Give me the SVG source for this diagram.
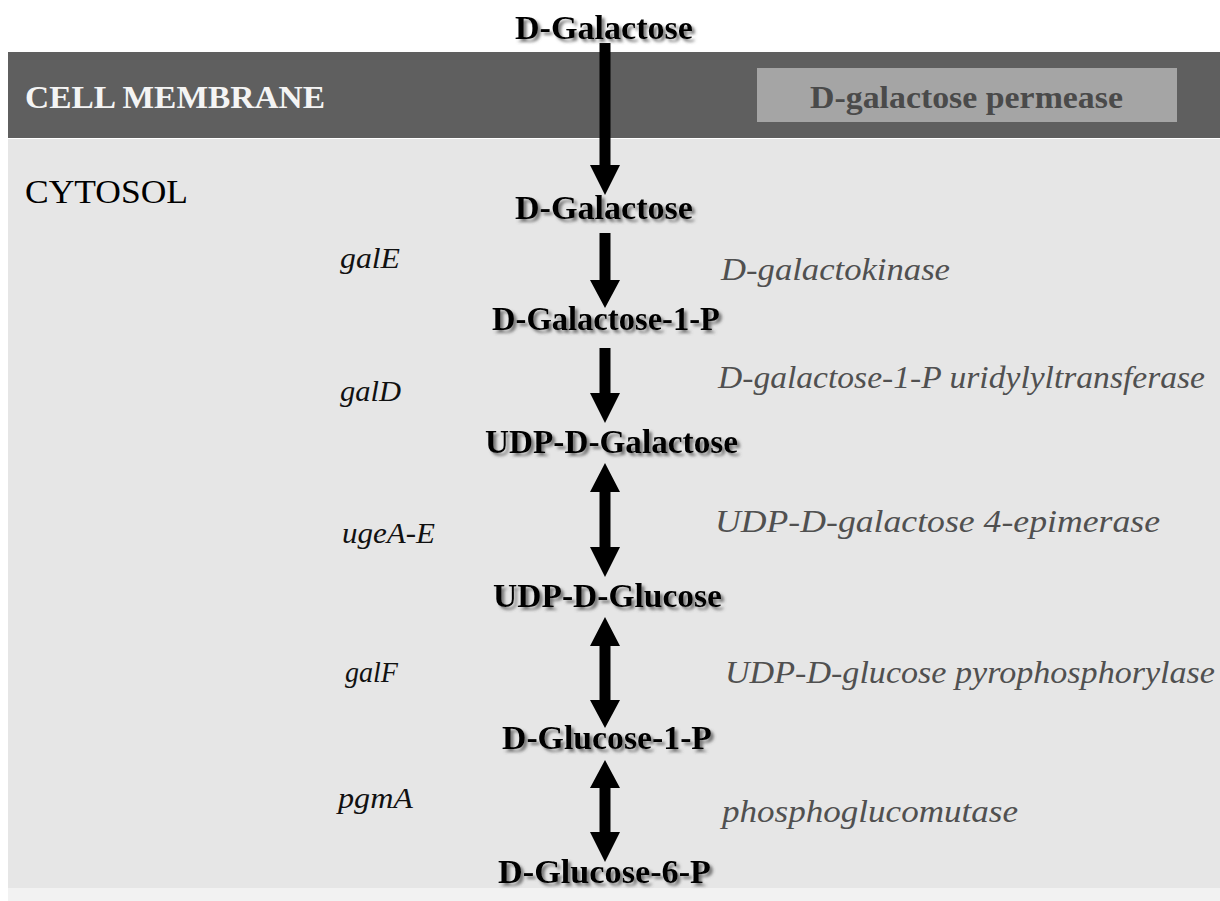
<svg xmlns="http://www.w3.org/2000/svg" width="1220" height="901" viewBox="0 0 1220 901">
<style>
.cmp{font-family:"Liberation Serif","Times New Roman",serif;font-weight:bold;font-size:33px;fill:#000;}
.gene{font-family:"Liberation Serif","Times New Roman",serif;font-style:italic;font-size:30px;fill:#111;}
.enz{font-family:"Liberation Serif","Times New Roman",serif;font-style:italic;font-size:32px;fill:#505050;}
.arr{fill:#000;}
</style>
<defs>
<filter id="sh" x="-10%" y="-30%" width="130%" height="170%">
<feGaussianBlur in="SourceAlpha" stdDeviation="1.6"/>
<feOffset dx="2.5" dy="2.5" result="b"/>
<feFlood flood-color="#555" flood-opacity="0.75"/>
<feComposite in2="b" operator="in"/>
<feMerge><feMergeNode/><feMergeNode in="SourceGraphic"/></feMerge>
</filter>
</defs>
<rect x="0" y="0" width="1220" height="901" fill="#ffffff"/>
<g id="cytosol">
<rect x="8" y="139" width="1212" height="749" fill="#e6e6e6"/>
<rect x="8" y="888" width="1212" height="13" fill="#f2f2f2"/>
<text x="25" y="203" font-family="Liberation Serif, Times New Roman, serif" font-size="33" fill="#000" textLength="163" lengthAdjust="spacingAndGlyphs">CYTOSOL</text>
</g>
<g id="membrane">
<rect x="8" y="52" width="1212" height="86" fill="#5f5f5f"/>
<text x="25" y="108" font-family="Liberation Serif, Times New Roman, serif" font-weight="bold" font-size="31" fill="#f4f4f4" textLength="300" lengthAdjust="spacingAndGlyphs">CELL MEMBRANE</text>
</g>
<g id="permease">
<rect x="757" y="68" width="420" height="54" fill="#a5a5a5"/>
<text x="810" y="108" font-family="Liberation Serif, Times New Roman, serif" font-weight="bold" font-size="31" fill="#4a4a4a" textLength="313" lengthAdjust="spacingAndGlyphs">D-galactose permease</text>
</g>
<g id="connectors">
<polygon class="arr" points="599.5,43 610.5,43 610.5,165 620,165 605,195 590,165 599.5,165"/>
<polygon class="arr" points="599.5,233 610.5,233 610.5,280 620,280 605,308 590,280 599.5,280"/>
<polygon class="arr" points="599.5,348 610.5,348 610.5,393 620,393 605,423 590,393 599.5,393"/>
<polygon class="arr" points="605,463 620,492 610.5,492 610.5,547 620,547 605,577 590,547 599.5,547 599.5,492 590,492"/>
<polygon class="arr" points="605,617 620,646 610.5,646 610.5,700 620,700 605,728 590,700 599.5,700 599.5,646 590,646"/>
<polygon class="arr" points="605,760 620,788 610.5,788 610.5,832 620,832 605,862 590,832 599.5,832 599.5,788 590,788"/>
</g>
<g id="n-galactose-out"><text class="cmp" filter="url(#sh)" x="515" y="39" textLength="178" lengthAdjust="spacingAndGlyphs">D-Galactose</text></g>
<g id="n-galactose-in"><text class="cmp" filter="url(#sh)" x="515" y="219" textLength="178" lengthAdjust="spacingAndGlyphs">D-Galactose</text></g>
<g id="n-galactose-1-p"><text class="cmp" filter="url(#sh)" x="492" y="330" textLength="228" lengthAdjust="spacingAndGlyphs">D-Galactose-1-P</text></g>
<g id="n-udp-galactose"><text class="cmp" filter="url(#sh)" x="485" y="453" textLength="253" lengthAdjust="spacingAndGlyphs">UDP-D-Galactose</text></g>
<g id="n-udp-glucose"><text class="cmp" filter="url(#sh)" x="493" y="607" textLength="229" lengthAdjust="spacingAndGlyphs">UDP-D-Glucose</text></g>
<g id="n-glucose-1-p"><text class="cmp" filter="url(#sh)" x="502" y="749" textLength="210" lengthAdjust="spacingAndGlyphs">D-Glucose-1-P</text></g>
<g id="n-glucose-6-p"><text class="cmp" filter="url(#sh)" x="498" y="883" textLength="213" lengthAdjust="spacingAndGlyphs">D-Glucose-6-P</text></g>
<g id="genes">
<text class="gene" x="340" y="268" textLength="60" lengthAdjust="spacingAndGlyphs">galE</text>
<text class="gene" x="340" y="401" textLength="61" lengthAdjust="spacingAndGlyphs">galD</text>
<text class="gene" x="342" y="543" textLength="93" lengthAdjust="spacingAndGlyphs">ugeA-E</text>
<text class="gene" x="345" y="682" textLength="53" lengthAdjust="spacingAndGlyphs">galF</text>
<text class="gene" x="338" y="808" textLength="75" lengthAdjust="spacingAndGlyphs">pgmA</text>
</g>
<g id="enzymes">
<text class="enz" x="721" y="280" textLength="229" lengthAdjust="spacingAndGlyphs">D-galactokinase</text>
<text class="enz" x="718" y="388" textLength="487" lengthAdjust="spacingAndGlyphs">D-galactose-1-P uridylyltransferase</text>
<text class="enz" x="715" y="532" textLength="445" lengthAdjust="spacingAndGlyphs">UDP-D-galactose 4-epimerase</text>
<text class="enz" x="725" y="683" textLength="490" lengthAdjust="spacingAndGlyphs">UDP-D-glucose pyrophosphorylase</text>
<text class="enz" x="722" y="822" textLength="296" lengthAdjust="spacingAndGlyphs">phosphoglucomutase</text>
</g>
</svg>
